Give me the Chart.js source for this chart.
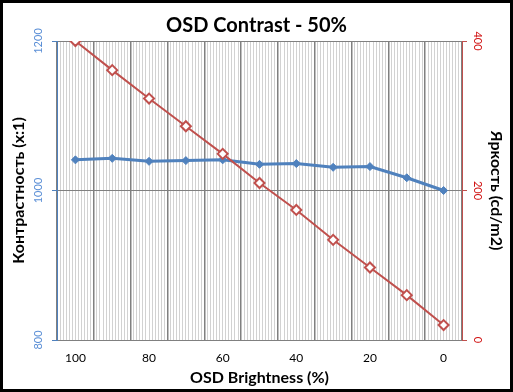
<!DOCTYPE html>
<html>
<head>
<meta charset="utf-8">
<script src="https://cdn.jsdelivr.net/npm/chart.js@4.4.0/dist/chart.umd.min.js"></script>
<style>
  html, body { margin: 0; padding: 0; background: #fff; }
  #wrap { width: 513px; height: 392px; box-sizing: border-box; border: 3px solid #000; background: #fff; }
  #wrap canvas { display: block; }
</style>
</head>
<body>
<div id="wrap"><canvas id="osdChart" width="507" height="386"></canvas></div>
<script>
// Chart values
const brightnessLabels = ["100", "90", "80", "70", "60", "50", "40", "30", "20", "10", "0"];
const contrastValues = [1041, 1043, 1039, 1040, 1041, 1035, 1036, 1031, 1032, 1017, 1000];
const luminanceValues = [400, 361, 323, 286, 249, 210, 174, 134, 97, 60, 20];
const contrastTicks = [800, 1000, 1200];
const luminanceTicks = [0, 200, 400];

const BLUE = "#4F81BD";
const RED = "#C0504D";
const GRID = "#808080";
Chart.defaults.font.family = "Lato, 'Liberation Sans', sans-serif";

const ctx = document.getElementById("osdChart").getContext("2d");
new Chart(ctx, {
  type: "line",
  data: {
    labels: brightnessLabels,
    datasets: [
      {
        label: "Контрастность",
        data: contrastValues,
        yAxisID: "y",
        borderColor: BLUE,
        backgroundColor: BLUE,
        borderWidth: 3,
        pointStyle: "rectRot",
        pointRadius: 4,
        pointBorderWidth: 1,
        order: 1
      },
      {
        label: "Яркость",
        data: luminanceValues,
        yAxisID: "y2",
        borderColor: RED,
        backgroundColor: "#fff",
        borderWidth: 2,
        pointStyle: "rectRot",
        pointRadius: 5,
        pointBorderWidth: 2,
        order: 0
      }
    ]
  },
  options: {
    responsive: false,
    animation: false,
    layout: { padding: 0 },
    plugins: {
      legend: { display: false },
      tooltip: { enabled: false },
      title: {
        display: true,
        text: "OSD Contrast - 50%",
        color: "#000",
        font: { size: 20, weight: "bold" },
        padding: { top: 11, bottom: 3 }
      }
    },
    scales: {
      x: {
        offset: true,
        border: { color: GRID },
        grid: { offset: true, color: GRID, lineWidth: 1.5, drawTicks: false, z: -1 },
        ticks: {
          color: "#000",
          font: { size: 12 },
          padding: 11,
          autoSkip: false,
          maxRotation: 0,
          callback: (v, i) => (i % 2 === 0 ? brightnessLabels[i] : "")
        },
        title: {
          display: true,
          text: "OSD Brightness (%)",
          color: "#000",
          font: { size: 16, weight: "bold" },
          padding: { top: 0, bottom: 2 }
        },
        afterFit: s => { s.height = 49; }
      },
      // fine vertical stripes of the plot area
      xMinor: {
        type: "linear",
        position: "bottom",
        min: 0,
        max: 132,
        border: { display: false },
        grid: {
          drawTicks: false,
          z: -2,
          color: c => (c.tick && c.tick.value % 12 === 0 ? "transparent" : "#d2d2d2")
        },
        ticks: { display: false, stepSize: 1 },
        afterFit: s => { s.height = 0; }
      },
      y: {
        position: "left",
        min: 800,
        max: 1200,
        afterBuildTicks: s => { s.ticks = contrastTicks.map(v => ({ value: v })); },
        border: { color: BLUE },
        grid: {
          color: c => (c.tick && c.tick.value === 800 ? "transparent" : GRID),
          tickColor: BLUE,
          tickLength: 5
        },
        ticks: {
          color: "#5B8FD6",
          font: { size: 11 },
          minRotation: 90,
          crossAlign: "center",
          padding: 1,
          callback: v => String(v)
        },
        title: {
          display: true,
          text: "Контрастность (x:1)",
          color: "#000",
          font: { size: 16, weight: "bold" },
          padding: { top: 6, bottom: 0 }
        },
        afterFit: s => { s.width = 54; }
      },
      y2: {
        position: "right",
        min: 0,
        max: 400,
        afterBuildTicks: s => { s.ticks = luminanceTicks.map(v => ({ value: v })); },
        border: { color: RED },
        grid: { drawOnChartArea: false, tickColor: RED, tickLength: 5 },
        ticks: {
          color: "#D01010",
          font: { size: 11 },
          minRotation: -90,
          crossAlign: "center",
          padding: 1,
          callback: v => String(v)
        },
        title: {
          display: true,
          text: "Яркость (cd/m2)",
          color: "#000",
          font: { size: 16, weight: "bold" },
          padding: { top: 4, bottom: 0 }
        },
        afterFit: s => { s.width = 48; }
      }
    }
  }
});
</script>
</body>
</html>
